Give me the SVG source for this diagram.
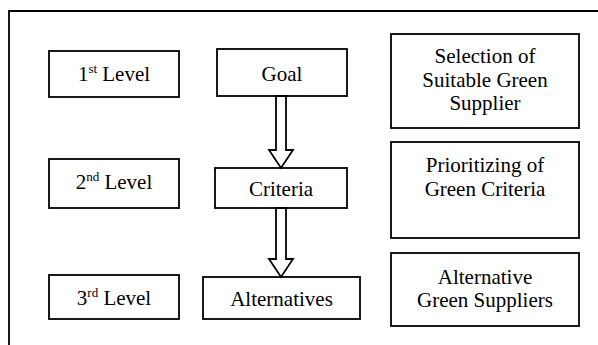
<svg xmlns="http://www.w3.org/2000/svg" width="598" height="345" viewBox="0 0 598 345">
<style>
.box{fill:#fff;stroke:#000;stroke-width:1.8}
.t{font-family:"Liberation Serif",serif;font-size:21px;fill:#000;text-anchor:middle}
.arr{fill:#fff;stroke:#000;stroke-width:1.8}
</style>
<rect width="598" height="345" fill="#fff"/>
<g id="frame"><path d="M9,345 V11 H598" fill="none" stroke="#000" stroke-width="1.8"/></g>
<g id="level1"><rect class="box" x="49" y="51" width="130" height="46"/><text class="t" x="114" y="81">1<tspan font-size="13" dy="-8">st</tspan><tspan dy="8"> Level</tspan></text></g>
<g id="level2"><rect class="box" x="49" y="159" width="130" height="49"/><text class="t" x="114" y="189">2<tspan font-size="13" dy="-8">nd</tspan><tspan dy="8"> Level</tspan></text></g>
<g id="level3"><rect class="box" x="49" y="275" width="130" height="44"/><text class="t" x="114" y="305">3<tspan font-size="13" dy="-8">rd</tspan><tspan dy="8"> Level</tspan></text></g>
<g id="goal"><rect class="box" x="217" y="49" width="130" height="47"/><text class="t" x="282" y="81">Goal</text></g>
<g id="criteria"><rect class="box" x="215" y="168" width="132" height="40"/><text class="t" x="281" y="196">Criteria</text></g>
<g id="alternatives"><rect class="box" x="203" y="277" width="157" height="42"/><text class="t" x="281.5" y="306">Alternatives</text></g>
<g id="selection"><rect class="box" x="391" y="34" width="188" height="94"/><text class="t" x="485" y="63">Selection of</text><text class="t" x="485" y="87">Suitable Green</text><text class="t" x="485" y="110">Supplier</text></g>
<g id="prioritizing"><rect class="box" x="391" y="142" width="188" height="96"/><text class="t" x="485" y="172">Prioritizing of</text><text class="t" x="485" y="196">Green Criteria</text></g>
<g id="altsuppliers"><rect class="box" x="391" y="253" width="188" height="73"/><text class="t" x="485" y="284">Alternative</text><text class="t" x="485" y="307">Green Suppliers</text></g>
<g id="connectors">
<polygon class="arr" points="276,96 286,96 286,150 293,150 281,168 269,150 276,150"/>
<polygon class="arr" points="276,208 286,208 286,259 293,259 281,277 269,259 276,259"/>
</g>
</svg>
